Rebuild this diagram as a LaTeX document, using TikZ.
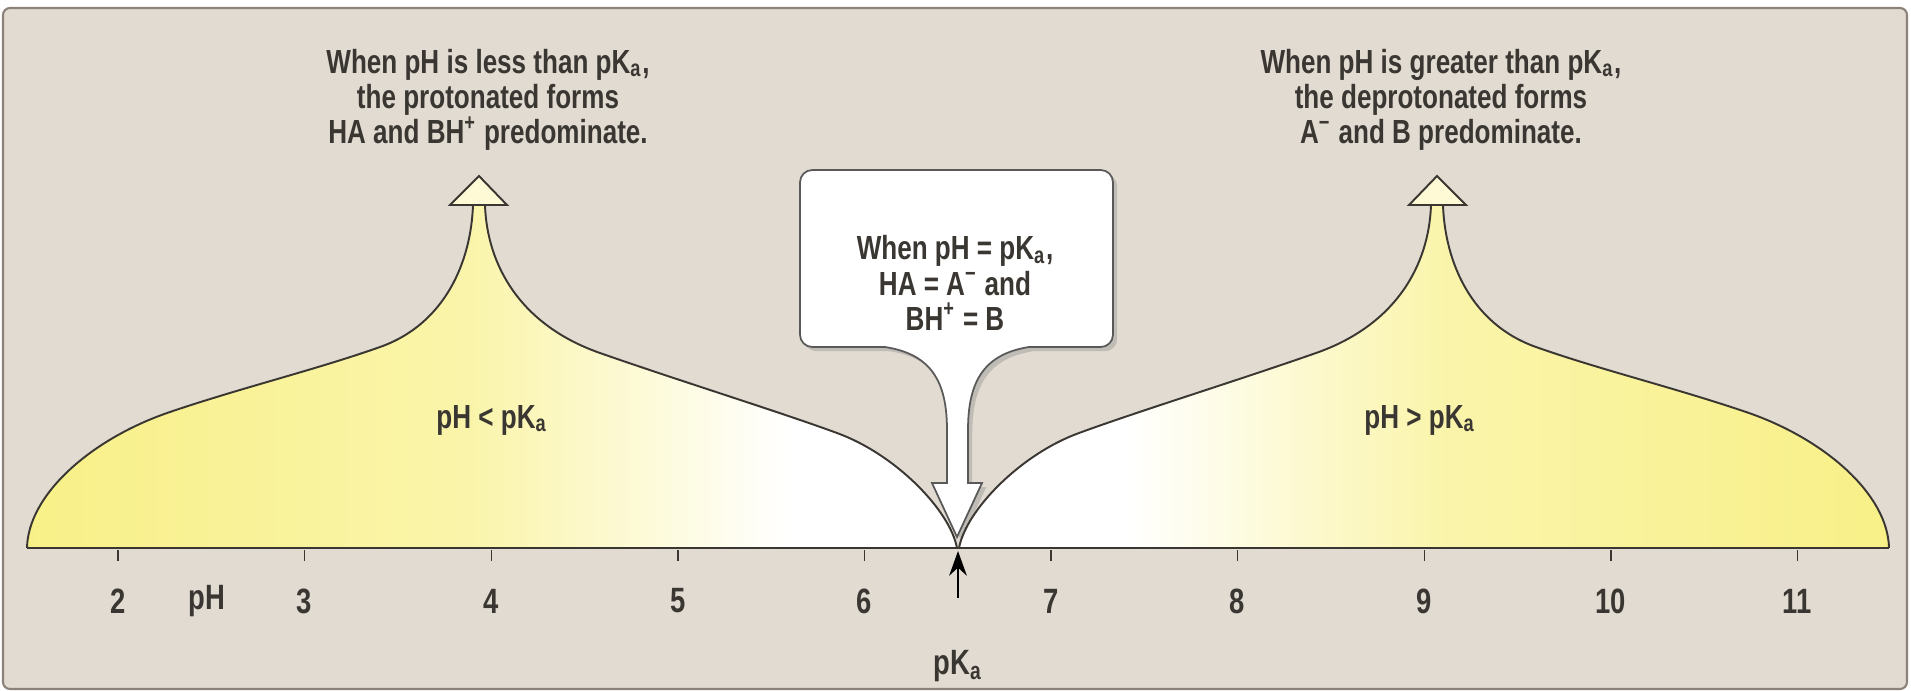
\documentclass[tikz,border=0pt]{standalone}
\usepackage{fontspec}
\newfontfamily\figfont{Liberation Sans}[FakeStretch=0.78]
\usetikzlibrary{arrows.meta,shadows,positioning}
\definecolor{bgbeige}{RGB}{226,219,210}
\definecolor{hyel}{RGB}{248,240,135}
\colorlet{hyelmid}{hyel!70!white}
\definecolor{inkgray}{RGB}{58,54,50}
\definecolor{framegray}{RGB}{140,130,122}
\pgfdeclarehorizontalshading{lowside}{100bp}{color(0bp)=(hyel); color(25bp)=(hyel); color(49bp)=(hyelmid); color(66bp)=(white); color(100bp)=(white)}
\pgfdeclarehorizontalshading{highside}{100bp}{color(0bp)=(white); color(34bp)=(white); color(51bp)=(hyelmid); color(75bp)=(hyel); color(100bp)=(hyel)}
\tikzset{
  hump/.style={draw=inkgray, line width=0.55pt},
  peaktip/.style={draw=inkgray, fill=hyel!35!white, line width=0.55pt, line join=miter},
  callout/.style={draw=gray!70!black, fill=white, line width=0.5pt, drop shadow={opacity=0.35, shadow xshift=1.2pt, shadow yshift=-1.2pt}},
  axisline/.style={draw=inkgray, line width=0.8pt},
  tickmark/.style={draw=inkgray, line width=0.4pt},
  ticklbl/.style={font=\figfont\bfseries\fontsize{10}{11}\selectfont, text=inkgray, inner sep=0pt},
  note/.style={align=center, font=\figfont\bfseries\fontsize{9.5}{10}\selectfont, text=inkgray, inner sep=0pt},
  pkarrow/.style={-{Stealth[length=7pt,width=5pt]}, draw=black, line width=0.8pt}
}
\begin{document}
\begin{tikzpicture}[x=0.01cm, y=-0.01cm]
    \useasboundingbox (0,0) rectangle (1911,690);
    % panel
    \draw[fill=bgbeige, draw=framegray, line width=0.6pt, rounded corners=2pt] (3,8) rectangle (1907,689);

    % humps
    \shade[shading=lowside] (27,548) .. controls (28,495) and (90,440) .. (167,413) .. controls (240,388) and (315,370) .. (380,347)
        .. controls (445,324) and (471,262) .. (473,205) -- (485,205) .. controls (487,265) and (520,325) .. (600,353)
        .. controls (680,381) and (780,412) .. (837,433) .. controls (895,454) and (950,510) .. (957,548) -- cycle;
    \shade[shading=highside] (959,548) .. controls (966,510) and (1021,454) .. (1079,433) .. controls (1136,412) and (1236,381) .. (1316,353)
        .. controls (1396,325) and (1429,265) .. (1431,205) -- (1443,205) .. controls (1445,262) and (1471,324) .. (1536,347)
        .. controls (1601,370) and (1676,388) .. (1749,413) .. controls (1826,440) and (1888,495) .. (1889,548) -- cycle;

    % callout
    \draw[callout] (885,347) [rounded corners=3.5pt] -- (800,347) -- (800,170) -- (1113,170) -- (1113,347) [sharp corners] -- (1029,347)
        .. controls (985,354) and (968,380) .. (968,430) -- (968,483) -- (982,483) -- (957,537) -- (932,483) -- (947,483) -- (947,430)
        .. controls (947,380) and (930,354) .. (885,347) -- cycle;
    \node[note] (eqtxt) at (955,283) {When pH = pK\textsubscript{a},\\HA = A\textsuperscript{−} and\\BH\textsuperscript{+} = B};

    % hump outlines
    \draw[hump] (27,548) .. controls (28,495) and (90,440) .. (167,413) .. controls (240,388) and (315,370) .. (380,347)
        .. controls (445,324) and (471,262) .. (473,205);
    \draw[hump] (485,205) .. controls (487,265) and (520,325) .. (600,353)
        .. controls (680,381) and (780,412) .. (837,433) .. controls (895,454) and (950,510) .. (957,548);
    \draw[hump] (959,548) .. controls (966,510) and (1021,454) .. (1079,433) .. controls (1136,412) and (1236,381) .. (1316,353)
        .. controls (1396,325) and (1429,265) .. (1431,205);
    \draw[hump] (1443,205) .. controls (1445,262) and (1471,324) .. (1536,347)
        .. controls (1601,370) and (1676,388) .. (1749,413) .. controls (1826,440) and (1888,495) .. (1889,548);
    \draw[peaktip] (450,205) -- (479,176) -- (507,205) -- cycle;
    \draw[peaktip] (1409,205) -- (1437,176) -- (1466,205) -- cycle;

    % labels
    \node[note] (lowtxt) at (488,100) {When pH is less than pK\textsubscript{a},\\the protonated forms\\HA and BH\textsuperscript{+} predominate.};
    \node[note] (hightxt) at (1441,100) {When pH is greater than pK\textsubscript{a},\\the deprotonated forms\\A\textsuperscript{−} and B predominate.};
    \node[note] (lowzone) at (492,420) {pH \textless{} pK\textsubscript{a}};
    \node[note] (highzone) at (1420,420) {pH \textgreater{} pK\textsubscript{a}};

    % axis
    \draw[axisline] (27,548) -- (1889,548);
    \foreach \v in {2,...,11} {
        \draw[tickmark] ({118+(\v-2)*186.6},550) -- ++(0,11);
        \node[ticklbl] (t\v) at ({118+(\v-2)*186.6},601) {\v};
    }
    \node[ticklbl] (phlbl) at (207,601) {pH};
    \node[ticklbl] (pka) at (958,666) {pK\textsubscript{a}};
    \coordinate (pkafoot) at (958,598);
    \coordinate (pkapt) at (958,551);
    \draw[pkarrow] (pkafoot) -- (pkapt);
\end{tikzpicture}
\end{document}
